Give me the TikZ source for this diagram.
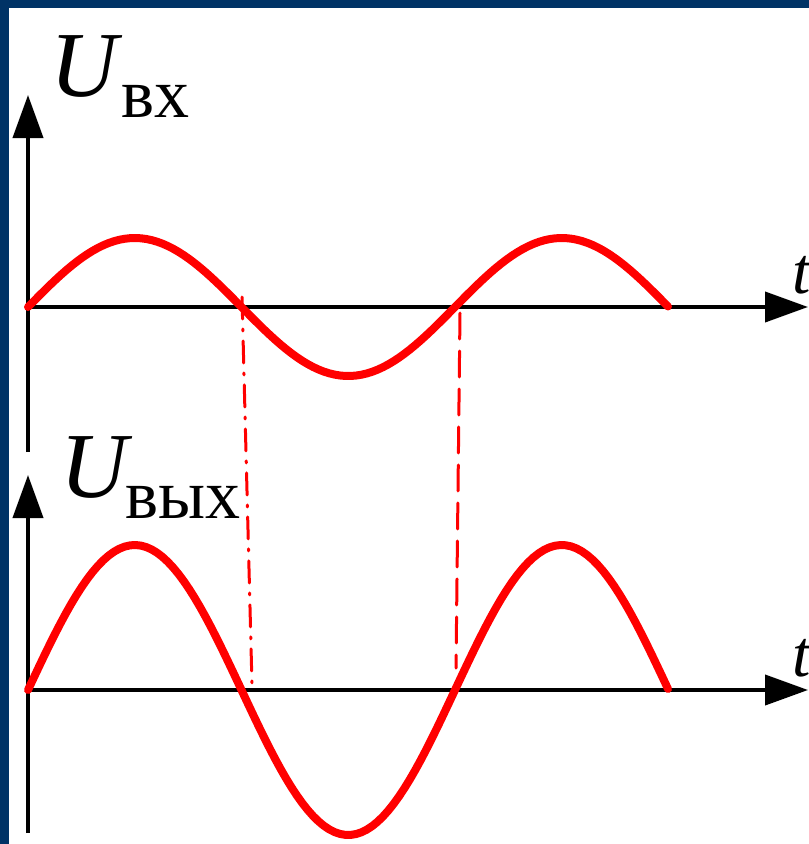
\documentclass[tikz,border=0pt]{standalone}
\usepackage{fontspec}
\setmainfont{Liberation Serif}
\usetikzlibrary{arrows.meta}
\definecolor{frameblue}{HTML}{003366}
\tikzset{
  axis/.style={line width=4pt, -{Triangle[length=43pt,width=30pt]}},
  wave/.style={line width=8pt, red, line cap=round, line join=round},
  guide/.style={line width=3pt, red, line cap=round},
  biglabel/.style={inner sep=0pt, anchor=base west, font=\fontsize{93}{93}\selectfont\itshape},
  sublabel/.style={inner sep=0pt, anchor=base west, font=\fontsize{70}{70}\selectfont},
  tlabel/.style={inner sep=0pt, anchor=base west, font=\fontsize{66}{66}\selectfont\itshape},
}
\begin{document}
\begin{tikzpicture}[x=1pt, y=-1pt]
    \useasboundingbox (0,0) rectangle (809,844);
    \fill[frameblue] (0,0) rectangle (809,844);
    \fill[white] (9,8) rectangle (809,844);

    % --- INPUT VOLTAGE ---
    \coordinate (inO) at (28,307);
    \coordinate (inB) at (28,452);
    \coordinate (inY) at (28,95);
    \coordinate (inX) at (808,307);
    \draw[axis] (inB) -- (inY);
    \draw[axis] (inO) -- (inX);
    \node[biglabel] (uin) at (50,96) {U};
    \node[sublabel] (uinsub) at (121,117) {вх};
    \node[tlabel] (tin) at (792,293) {t};
    \draw[wave] plot[domain=0:640, samples=120] ({28+\x}, {307-69*sin(\x/427*360)});

    % --- OUTPUT VOLTAGE ---
    \coordinate (outO) at (28,690);
    \coordinate (outB) at (28,833);
    \coordinate (outY) at (28,475);
    \coordinate (outX) at (808,690);
    \draw[axis] (outB) -- (outY);
    \draw[axis] (outO) -- (outX);
    \node[biglabel] (uout) at (60,497) {U};
    \node[sublabel] (uoutsub) at (125,518) {вых};
    \node[tlabel] (tout) at (792,676) {t};
    \draw[wave] plot[domain=0:640, samples=120] ({28+\x}, {690-145*sin(\x/427*360)});

    % --- GUIDE LINES ---
    \coordinate (g1a) at (242,297);
    \coordinate (g1b) at (252,685);
    \coordinate (g2a) at (460,313);
    \coordinate (g2b) at (456,668);
    \draw[guide, dash pattern=on 22pt off 10pt on 2pt off 10pt] (g1a) -- (g1b);
    \draw[guide, dash pattern=on 26pt off 12pt] (g2a) -- (g2b);

\end{tikzpicture}
\end{document}
